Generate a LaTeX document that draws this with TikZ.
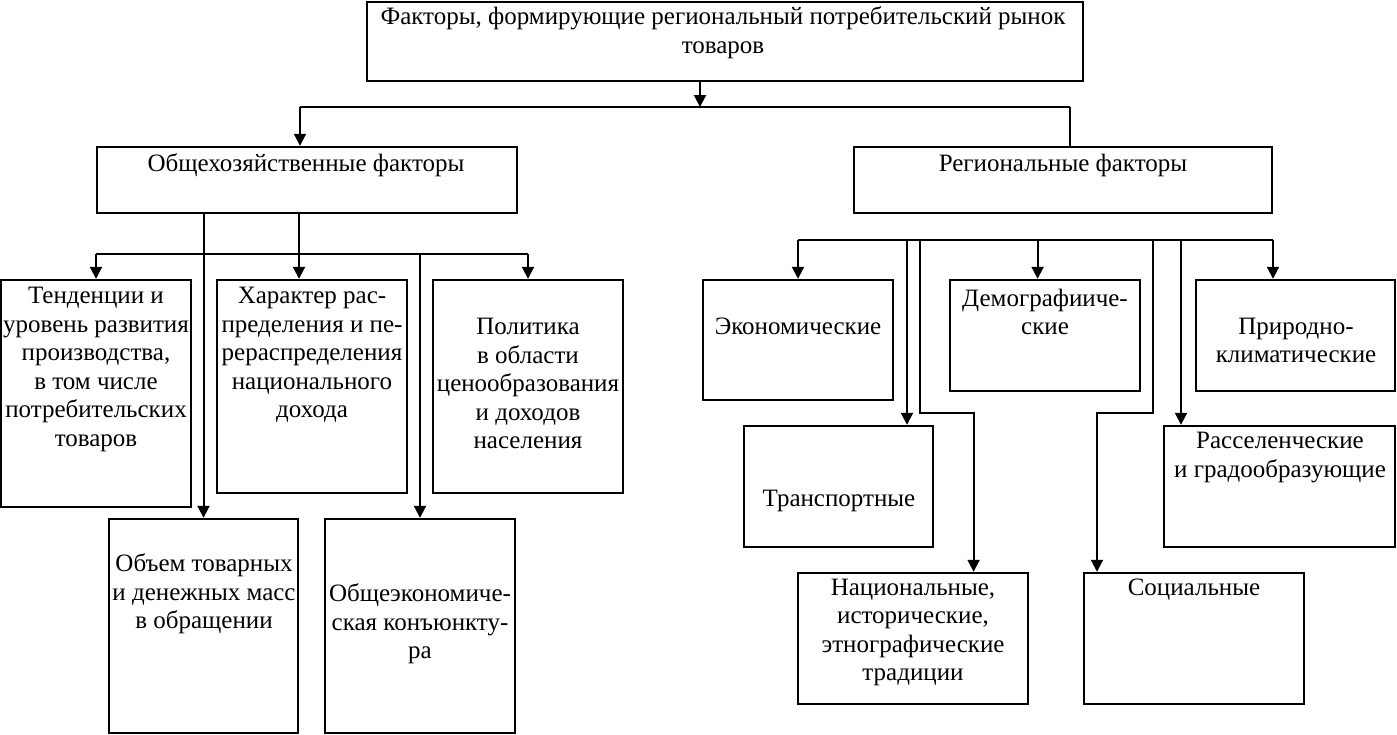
\documentclass[tikz,border=0pt]{standalone}
\usepackage{fontspec}
\setmainfont{Liberation Serif}
\usetikzlibrary{arrows.meta,fit}

\begin{document}
\begin{tikzpicture}[x=0.5pt, y=-0.5pt, line join=miter, >={Triangle[length=6pt,width=6pt]}]

		\tikzset{box/.style={draw, line width=1.2pt, inner sep=0pt},
			txt/.style={align=center, inner sep=0pt, font=\fontsize{12.5}{14.25}\selectfont},
			link/.style={line width=1pt}}

		\useasboundingbox (0,0) rectangle (1397,734);

		% boxes
		\node[box, fit={(367,2) (1083,81)}] (fac) {};
		\node[box, fit={(97,147) (517,213)}] (gen) {};
		\node[box, fit={(854,147) (1272,213)}] (reg) {};
		\node[box, fit={(1,280) (191,507)}] (ten) {};
		\node[box, fit={(217,280) (407,493)}] (har) {};
		\node[box, fit={(433,280) (623,493)}] (pol) {};
		\node[box, fit={(109,519) (298,733)}] (obj) {};
		\node[box, fit={(325,519) (515,733)}] (oek) {};
		\node[box, fit={(703,280) (893,400)}] (ekn) {};
		\node[box, fit={(950,280) (1140,391)}] (dem) {};
		\node[box, fit={(1196,280) (1395,391)}] (pri) {};
		\node[box, fit={(744,426) (933,547)}] (tra) {};
		\node[box, fit={(1164,426) (1395,547)}] (ras) {};
		\node[box, fit={(798,573) (1028,704)}] (nat) {};
		\node[box, fit={(1084,573) (1304,704)}] (soc) {};

		% texts
		\node[txt] (fac-t) at (723,32.5) {Факторы, формирующие региональный потребительский рынок\\товаров};
		\node[txt] (gen-t) at (306,165) {Общехозяйственные факторы};
		\node[txt] (reg-t) at (1063,165) {Региональные факторы};
		\node[txt] (ten-t) at (96,369.5) {Тенденции и\\уровень развития\\производства,\\в том числе\\потребительских\\товаров};
		\node[txt] (har-t) at (312,355) {Характер рас-\\пределения и пе-\\рераспределения\\национального\\дохода};
		\node[txt] (pol-t) at (528,383.5) {Политика\\в области\\ценообразования\\и доходов\\населения};
		\node[txt] (obj-t) at (204,594) {Объем товарных\\и денежных масс\\в обращении};
		\node[txt] (oek-t) at (420,624) {Общеэкономиче-\\ская конъюнкту-\\ра};
		\node[txt] (ekn-t) at (798,326) {Экономические};
		\node[txt] (dem-t) at (1045,312) {Демографииче-\\ские};
		\node[txt] (pri-t) at (1296,340.5) {Природно-\\климатические};
		\node[txt] (tra-t) at (839,501) {Транспортные};
		\node[txt] (ras-t) at (1280,457.5) {Расселенческие\\и градообразующие};
		\node[txt] (nat-t) at (913,632.5) {Национальные,\\исторические,\\этнографические\\традиции};
		\node[txt] (soc-t) at (1194,590) {Социальные};

		% drop points on the buses
		\coordinate (dTop) at (700,107);
		\coordinate (dGen) at (300,107);
		\coordinate (dReg) at (1070,107);
		\coordinate (dHar) at (299,254);
		\coordinate (dEk) at (798,240);
		\coordinate (dTr) at (907,240);
		\coordinate (dNa) at (920,240);
		\coordinate (kNa) at (973.6,412.7);
		\coordinate (dDe) at (1037.6,240);
		\coordinate (dSo) at (1153,240);
		\coordinate (kSo) at (1097,412.7);
		\coordinate (dRa) at (1181,240);
		\coordinate (dPr) at (1273,240);

		% upper level
		\draw[link,->] (fac.south -| dTop) -- (dTop);
		\draw[link] (dGen) -- (dReg);
		\draw[link,->] (dGen) -- (dGen |- gen.north);
		\draw[link] (dReg) -- (dReg |- reg.north);

		% general factors
		\draw[link,->] (gen.south -| obj.north) -- (obj.north);
		\draw[link,->] (gen.south -| dHar) -- (dHar |- har.north);
		\draw[link] (ten.north |- dHar) -- (pol.north |- dHar);
		\foreach \b in {ten, pol, oek}
		\draw[link,->] (\b.north |- dHar) -- (\b.north);

		% regional factors
		\draw[link] (dEk) -- (dPr);
		\draw[link,->] (dEk) -- (ekn.north);
		\foreach \d/\b in {dTr/tra, dDe/dem, dRa/ras, dPr/pri}
		\draw[link,->] (\d) -- (\d |- \b.north);
		\draw[link,->] (dNa) |- (kNa) -- (kNa |- nat.north);
		\draw[link,->] (dSo) |- (kSo) -- (kSo |- soc.north);
		\end{tikzpicture}
\end{document}
